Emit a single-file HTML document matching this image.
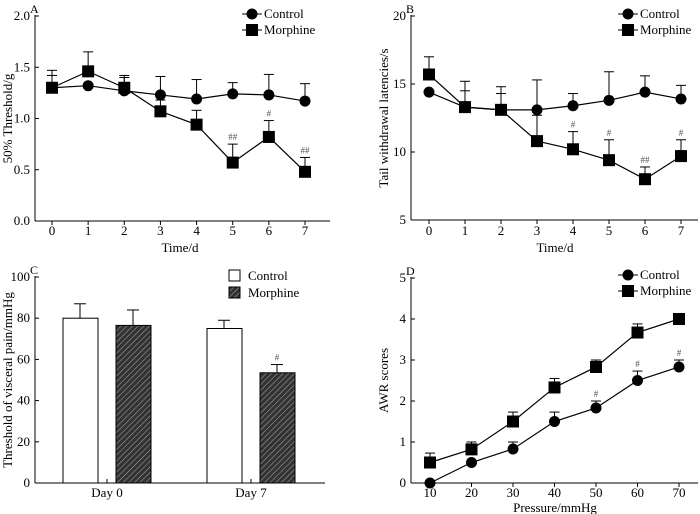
<!DOCTYPE html>
<html><head><meta charset="utf-8"><style>
body{margin:0;background:#fff}
svg{display:block}
svg text{font-family:"Liberation Serif","Times New Roman",serif !important;}
</style></head><body>
<svg id="s" width="700" height="514" viewBox="0 0 700 514" font-family="Liberation Serif, serif">
<defs><pattern id="hatch" patternUnits="userSpaceOnUse" width="4" height="4" patternTransform="rotate(45)"><rect width="4" height="4" fill="#333"/><line x1="0" y1="0" x2="0" y2="4" stroke="#aaa" stroke-width="1"/></pattern></defs>
</svg>
<script>
// Panel A
const aDays=[0,1,2,3,4,5,6,7];
const aCtrl=[1.30,1.32,1.27,1.23,1.19,1.24,1.23,1.17];
const aCtrlErr=[1.42,1.32,1.40,1.41,1.38,1.35,1.43,1.34];
const aMor=[1.30,1.46,1.30,1.07,0.94,0.57,0.82,0.48];
const aMorErr=[1.47,1.65,1.42,1.18,1.08,0.75,0.98,0.62];
const aSig=["","","","","","##","#","##"];
const aTicks=[0,0.5,1.0,1.5,2.0];
// Panel B
const bCtrl=[14.4,13.3,13.1,13.1,13.4,13.8,14.4,13.9];
const bCtrlErr=[14.4,14.5,14.3,15.3,14.3,15.9,15.6,14.9];
const bMor=[15.7,13.3,13.1,10.8,10.2,9.4,8.0,9.7];
const bMorErr=[17.0,15.2,14.8,12.7,11.5,10.9,8.9,10.9];
const bSig=["","","","","#","#","##","#"];
const bTicks=[5,10,15,20];
// Panel C
const cGroups=["Day 0","Day 7"];
const cCtrl=[80,75];
const cCtrlErr=[87,79];
const cMor=[76.5,53.5];
const cMorErr=[84,57.5];
const cSig=["","#"];
const cTicks=[0,20,40,60,80,100];
// Panel D
const dPress=[10,20,30,40,50,60,70];
const dCtrl=[0,0.5,0.83,1.5,1.83,2.5,2.83];
const dCtrlErr=[0,0.5,1.0,1.73,2.0,2.73,3.0];
const dMor=[0.5,0.82,1.5,2.33,2.83,3.67,4.0];
const dMorErr=[0.73,1.0,1.73,2.55,3.0,3.88,4.0];
const dSig=["","","","","#","#","#"];
const dTicks=[0,1,2,3,4,5];

const svg=document.getElementById('s');
const NS='http://www.w3.org/2000/svg';
const FF='Liberation Serif, serif';
function el(tag,attrs,parent,text){const e=document.createElementNS(NS,tag);for(const k in attrs)e.setAttribute(k,attrs[k]);if(tag==='text')e.setAttribute('font-family',FF);if(text!==undefined)e.textContent=text;(parent||svg).appendChild(e);return e;}
function lin(d0,d1,p0,p1){return v=>p0+(v-d0)*(p1-p0)/(d1-d0);}

function axes(g,ax,ay0,ay1,xEnd,ys,ticks,fmt,ylab,letter){
  const ax_=el('line',{x1:ax,y1:ay1-1,x2:ax,y2:ay0,stroke:'#000','stroke-width':1},g);
  
  const xl=el('line',{x1:ax,y1:ay0,x2:xEnd,y2:ay0,stroke:'#000','stroke-width':1},g);
  
  ticks.forEach(t=>{const y=ys(t);el('line',{x1:ax,y1:y,x2:ax+4,y2:y,stroke:'#000'},g);
    const tx=el('text',{x:ax-5,y:y+4,'text-anchor':'end','font-size':13},g,fmt(t));
    });
  const yt=el('text',{x:0,y:0,'font-size':13,'text-anchor':'middle',transform:`translate(${ax-23},${(ay0+ay1)/2}) rotate(-90)`},g,ylab);
  
  const lt=el('text',{x:ax-5,y:ay1-3,'font-size':12},g,letter);
  
}
function xTicks(g,xs,vals,ay0,labY,title,titleY,cx){
  vals.forEach(v=>{const x=xs(v);el('line',{x1:x,y1:ay0,x2:x,y2:ay0+4,stroke:'#000'},g);
    const t=el('text',{x:x,y:labY,'text-anchor':'middle','font-size':13},g,String(v));
    });
  const tt=el('text',{x:cx,y:titleY,'text-anchor':'middle','font-size':13},g,title);
  
}
function series(g,xs,ys,xv,v,err,shape,name){
  const pts=xv.map((x,i)=>xs(x)+','+ys(v[i])).join(' ');
  const pl=el('polyline',{points:pts,fill:'none',stroke:'#000','stroke-width':1.2},g);
  
  xv.forEach((x,i)=>{const px=xs(x),py=ys(v[i]),pe=ys(err[i]);
    if(err[i]>v[i]){el('line',{x1:px,y1:py,x2:px,y2:pe,stroke:'#000'},g);el('line',{x1:px-5,y1:pe,x2:px+5,y2:pe,stroke:'#000'},g);}
    let m;
    if(shape==='c')m=el('circle',{cx:px,cy:py,r:5.5,fill:'#000'},g);
    else m=el('rect',{x:px-6,y:py-6,width:12,height:12,fill:'#000'},g);
    });
}
function sig(g,xs,ys,xv,err,s){xv.forEach((x,i)=>{if(s[i]){const t=el('text',{x:xs(x),y:ys(err[i])-4,'text-anchor':'middle','font-size':9,fill:'#555'},g,s[i]);
  }});}
function legend(g,x,y){
  el('line',{x1:x-10,y1:y,x2:x+10,y2:y,stroke:'#000'},g);const c=el('circle',{cx:x,cy:y,r:5.5},g);
  
  const t1=el('text',{x:x+12,y:y+4,'font-size':13},g,'Control');
  el('line',{x1:x-10,y1:y+16,x2:x+10,y2:y+16,stroke:'#000'},g);el('rect',{x:x-6,y:y+10,width:12,height:12},g);
  const t2=el('text',{x:x+12,y:y+20,'font-size':13},g,'Morphine');
}
function panel(name){const g=el('g',{},svg);return g;}

// A
{const g=panel('panel-a');const xs=lin(0,7,52,305),ys=lin(0,2,221,16);
 axes(g,35,221,16,330,ys,aTicks,t=>t.toFixed(1),'50% Threshold/g','A');
 xTicks(g,xs,aDays,221,235,'Time/d',252,180);
 series(g,xs,ys,aDays,aCtrl,aCtrlErr,'c','control');
 series(g,xs,ys,aDays,aMor,aMorErr,'s','morphine');
 sig(g,xs,ys,aDays,aMorErr,aSig);legend(g,252,14);}
// B
{const g=panel('panel-b');const xs=lin(0,7,429,681),ys=lin(5,20,220,16);
 axes(g,411,220,16,698,ys,bTicks,t=>String(t),'Tail withdrawal latencies/s','B');
 xTicks(g,xs,aDays,220,235,'Time/d',252,555);
 series(g,xs,ys,aDays,bCtrl,bCtrlErr,'c','control');
 series(g,xs,ys,aDays,bMor,bMorErr,'s','morphine');
 sig(g,xs,ys,aDays,bMorErr,bSig);legend(g,628,14);}
// C
{const g=panel('panel-c');const ys=lin(0,100,483,277);
 axes(g,35,483,277,325,ys,cTicks,t=>String(t),'Threshold of visceral pain/mmHg','C');
 const centers=[107,251];
 cGroups.forEach((lab,i)=>{const c=centers[i];
  el('line',{x1:c,y1:483,x2:c,y2:479,stroke:'#000'},g);
  const t=el('text',{x:c,y:497,'text-anchor':'middle','font-size':13},g,lab);
  [[cCtrl,cCtrlErr,c-44,'#fff','control'],[cMor,cMorErr,c+9,'url(#hatch)','morphine']].forEach(([v,e,x,f,n])=>{
   const y=ys(v[i]),ye=ys(e[i]);
   el('line',{x1:x+17,y1:y,x2:x+17,y2:ye,stroke:'#000'},g);el('line',{x1:x+11,y1:ye,x2:x+23,y2:ye,stroke:'#000'},g);
   const r=el('rect',{x:x,y:y,width:35,height:483-y,fill:f,stroke:'#000'},g);
   
   if(n==='morphine'&&cSig[i]){const s=el('text',{x:x+17,y:ye-4,'text-anchor':'middle','font-size':9,fill:'#555'},g,cSig[i]);}
  });});
 el('rect',{x:229,y:270,width:11,height:11,fill:'#fff',stroke:'#000'},g);
 const l1=el('text',{x:248,y:280,'font-size':13},g,'Control');
 el('rect',{x:229,y:287,width:11,height:11,fill:'url(#hatch)',stroke:'#000'},g);
 const l2=el('text',{x:248,y:297,'font-size':13},g,'Morphine');}
// D
{const g=panel('panel-d');const xs=lin(10,70,430,679),ys=lin(0,5,483,278);
 axes(g,411,483,278,698,ys,dTicks,t=>String(t),'AWR scores','D');
 xTicks(g,xs,dPress,483,497,'Pressure/mmHg',512,555);
 series(g,xs,ys,dPress,dCtrl,dCtrlErr,'c','control');
 series(g,xs,ys,dPress,dMor,dMorErr,'s','morphine');
 sig(g,xs,ys,dPress,dCtrlErr,dSig);legend(g,628,275);}
</script>
</body></html>
